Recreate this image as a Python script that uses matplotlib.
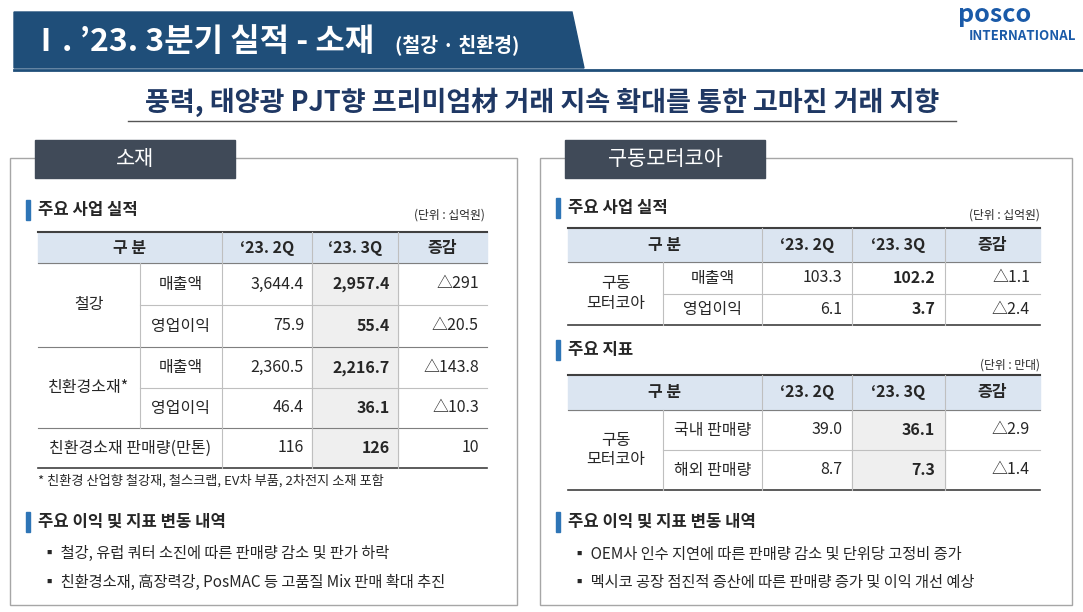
import matplotlib
matplotlib.use("Agg")
import matplotlib.pyplot as plt
from matplotlib.patches import Rectangle, Polygon
from matplotlib import font_manager

names = {f.name for f in font_manager.fontManager.ttflist}
fams = [n for n in ["Noto Sans CJK KR", "Noto Sans CJK JP", "Noto Sans CJK SC", "Noto Sans CJK TC"] if n in names]
plt.rcParams["font.family"] = fams + ["DejaVu Sans"]

title = "Ⅰ. ’23. 3분기 실적 - 소재"
title_sub = "(철강 · 친환경)"
subtitle = "풍력, 태양광 PJT향 프리미엄材 거래 지속 확대를 통한 고마진 거래 지향"
col_heads = ["구 분", "‘23. 2Q", "‘23. 3Q", "증감"]

left_groups = ["철강", "친환경소재*"]
left_items = ["매출액", "영업이익", "매출액", "영업이익"]
left_2q = ["3,644.4", "75.9", "2,360.5", "46.4"]
left_3q = ["2,957.4", "55.4", "2,216.7", "36.1"]
left_diff = ["△291", "△20.5", "△143.8", "△10.3"]
left_last = ["친환경소재 판매량(만톤)", "116", "126", "10"]
left_note = "* 친환경 산업향 철강재, 철스크랩, EV차 부품, 2차전지 소재 포함"
left_bullets = ["철강, 유럽 쿼터 소진에 따른 판매량 감소 및 판가 하락",
                "친환경소재, 高장력강, PosMAC 등 고품질 Mix 판매 확대 추진"]

r1_items = ["매출액", "영업이익"]
r1_2q = ["103.3", "6.1"]
r1_3q = ["102.2", "3.7"]
r1_diff = ["△1.1", "△2.4"]
r2_items = ["국내 판매량", "해외 판매량"]
r2_2q = ["39.0", "8.7"]
r2_3q = ["36.1", "7.3"]
r2_diff = ["△2.9", "△1.4"]
right_bullets = ["OEM사 인수 지연에 따른 판매량 감소 및 단위당 고정비 증가",
                 "멕시코 공장 점진적 증산에 따른 판매량 증가 및 이익 개선 예상"]

NAVY = "#1f3864"
HEAD = "#dbe5f1"
SHADE = "#efefef"
LINE = "#7f7f7f"
TXT = "#262626"

fig = plt.figure(figsize=(10.83, 6.12), dpi=100)
ax = fig.add_axes([0, 0, 1, 1])
ax.set_xlim(0, 1083); ax.set_ylim(612, 0); ax.axis("off")

ax.add_patch(Polygon([[14, 12], [572, 12], [584, 68], [14, 68]], color="#1f4e79", zorder=1))
ax.plot([14, 1083], [70, 70], color="#1f4e79", lw=2)
ax.text(30, 42, title, color="white", fontsize=23, fontweight="bold", va="center")
ax.text(395, 45, title_sub, color="white", fontsize=14, fontweight="bold", va="center")
ax.text(995, 15, "posco", color="#1a5aa8", fontsize=18, fontweight="bold", va="center", ha="center")
ax.text(1022, 36, "INTERNATIONAL", color="#1a5aa8", fontsize=9.5, fontweight="bold", va="center", ha="center")
ax.text(542, 102, subtitle, color=NAVY, fontsize=19.5, fontweight="bold", va="center", ha="center")
ax.plot([128, 956], [121, 121], color="#555555", lw=1)

def panel(x0, x1, label):
    ax.add_patch(Rectangle((x0, 158), x1 - x0, 447, fill=False, ec="#a6a6a6", lw=1))
    ax.add_patch(Rectangle((x0 + 25, 140), 200, 38, color="#404a58", zorder=3))
    ax.text(x0 + 125, 159, label, color="white", fontsize=15, ha="center", va="center", zorder=4)

panel(10, 517, "소재")
panel(540, 1072, "구동모터코아")

def section(x, y, t):
    ax.add_patch(Rectangle((x, y - 10), 4, 20, color="#2e75b6"))
    ax.text(x + 12, y, t, fontsize=12, fontweight="bold", color=TXT, va="center")

def cell(x, y, t, bold=False, size=11.5):
    ax.text(x, y, t, fontsize=size, ha="center", va="center", color=TXT,
            fontweight="bold" if bold else "normal")

def hline(x0, x1, y, lw=0.8, c=LINE):
    ax.plot([x0, x1], [y, y], color=c, lw=lw)

def vline(x, y0, y1):
    ax.plot([x, x], [y0, y1], color="#bfbfbf", lw=0.8)

section(26, 210, "주요 사업 실적")
ax.text(485, 215, "(단위 : 십억원)", fontsize=8.5, ha="right", va="center", color=TXT)
cx = [38, 140, 222, 312, 398, 487]
ry = [232, 263, 305, 347, 388, 428, 468]
ax.add_patch(Rectangle((cx[0], ry[0]), cx[-1] - cx[0], ry[1] - ry[0], color=HEAD))
ax.add_patch(Rectangle((cx[3], ry[1]), cx[4] - cx[3], ry[6] - ry[1], color=SHADE))
hline(cx[0], cx[-1], ry[0], 1.5, "#404040"); hline(cx[0], cx[-1], ry[1])
hline(cx[1], cx[-1], ry[2], c="#bfbfbf"); hline(cx[0], cx[-1], ry[3])
hline(cx[1], cx[-1], ry[4], c="#bfbfbf"); hline(cx[0], cx[-1], ry[5])
hline(cx[0], cx[-1], ry[6], 1.2, "#404040")
for x in cx[2:5]: vline(x, ry[0], ry[6])
vline(cx[1], ry[1], ry[5])
cell((cx[0] + cx[2]) / 2, 248, col_heads[0], True)
for i in range(1, 4): cell((cx[i + 1] + cx[i + 2]) / 2, 248, col_heads[i], True)
for g in range(2):
    cell((cx[0] + cx[1]) / 2, (ry[1 + 2 * g] + ry[3 + 2 * g]) / 2, left_groups[g])
for i in range(4):
    yc = (ry[1 + i] + ry[2 + i]) / 2
    cell((cx[1] + cx[2]) / 2, yc, left_items[i])
    ax.text(cx[3] - 8, yc, left_2q[i], fontsize=11.5, ha="right", va="center", color=TXT)
    ax.text(cx[4] - 8, yc, left_3q[i], fontsize=11.5, ha="right", va="center", color=TXT, fontweight="bold")
    ax.text(cx[5] - 8, yc, left_diff[i], fontsize=11.5, ha="right", va="center", color=TXT)
yc = (ry[5] + ry[6]) / 2
cell((cx[0] + cx[2]) / 2, yc, left_last[0])
ax.text(cx[3] - 8, yc, left_last[1], fontsize=11.5, ha="right", va="center", color=TXT)
ax.text(cx[4] - 8, yc, left_last[2], fontsize=11.5, ha="right", va="center", color=TXT, fontweight="bold")
ax.text(cx[5] - 8, yc, left_last[3], fontsize=11.5, ha="right", va="center", color=TXT)
ax.text(38, 481, left_note, fontsize=9.5, va="center", color=TXT)
section(26, 522, "주요 이익 및 지표 변동 내역")
for i, b in enumerate(left_bullets):
    ax.text(42, 553 + 29 * i, "▪ " + b, fontsize=11, va="center", color=TXT)

section(556, 208, "주요 사업 실적")
ax.text(1040, 215, "(단위 : 십억원)", fontsize=8.5, ha="right", va="center", color=TXT)
rx = [568, 663, 762, 852, 945, 1040]

def rtable(ys, items, v2, v3, dv, shade):
    ax.add_patch(Rectangle((rx[0], ys[0]), rx[-1] - rx[0], ys[1] - ys[0], color=HEAD))
    if shade:
        ax.add_patch(Rectangle((rx[3], ys[1]), rx[4] - rx[3], ys[3] - ys[1], color=SHADE))
    hline(rx[0], rx[-1], ys[0], 1.5, "#404040"); hline(rx[0], rx[-1], ys[1])
    hline(rx[1], rx[-1], ys[2], c="#bfbfbf"); hline(rx[0], rx[-1], ys[3], 1.2, "#404040")
    for x in rx[2:5]: vline(x, ys[0], ys[3])
    vline(rx[1], ys[1], ys[3])
    hy = (ys[0] + ys[1]) / 2
    cell((rx[0] + rx[2]) / 2, hy, col_heads[0], True)
    for i in range(1, 4): cell((rx[i + 1] + rx[i + 2]) / 2, hy, col_heads[i], True)
    cell((rx[0] + rx[1]) / 2, (ys[1] + ys[3]) / 2, "구동\n모터코아")
    for i in range(2):
        yc = (ys[1 + i] + ys[2 + i]) / 2
        cell((rx[1] + rx[2]) / 2, yc, items[i])
        ax.text(rx[3] - 10, yc, v2[i], fontsize=11.5, ha="right", va="center", color=TXT)
        ax.text(rx[4] - 10, yc, v3[i], fontsize=11.5, ha="right", va="center", color=TXT, fontweight="bold")
        ax.text(rx[5] - 10, yc, dv[i], fontsize=11.5, ha="right", va="center", color=TXT)

rtable([228, 262, 294, 325], r1_items, r1_2q, r1_3q, r1_diff, False)
section(556, 350, "주요 지표")
ax.text(1040, 365, "(단위 : 만대)", fontsize=8.5, ha="right", va="center", color=TXT)
rtable([375, 410, 450, 490], r2_items, r2_2q, r2_3q, r2_diff, True)
section(556, 522, "주요 이익 및 지표 변동 내역")
for i, b in enumerate(right_bullets):
    ax.text(572, 555 + 28 * i, "▪ " + b, fontsize=11, va="center", color=TXT)

fig.savefig("out.png", dpi=100)
